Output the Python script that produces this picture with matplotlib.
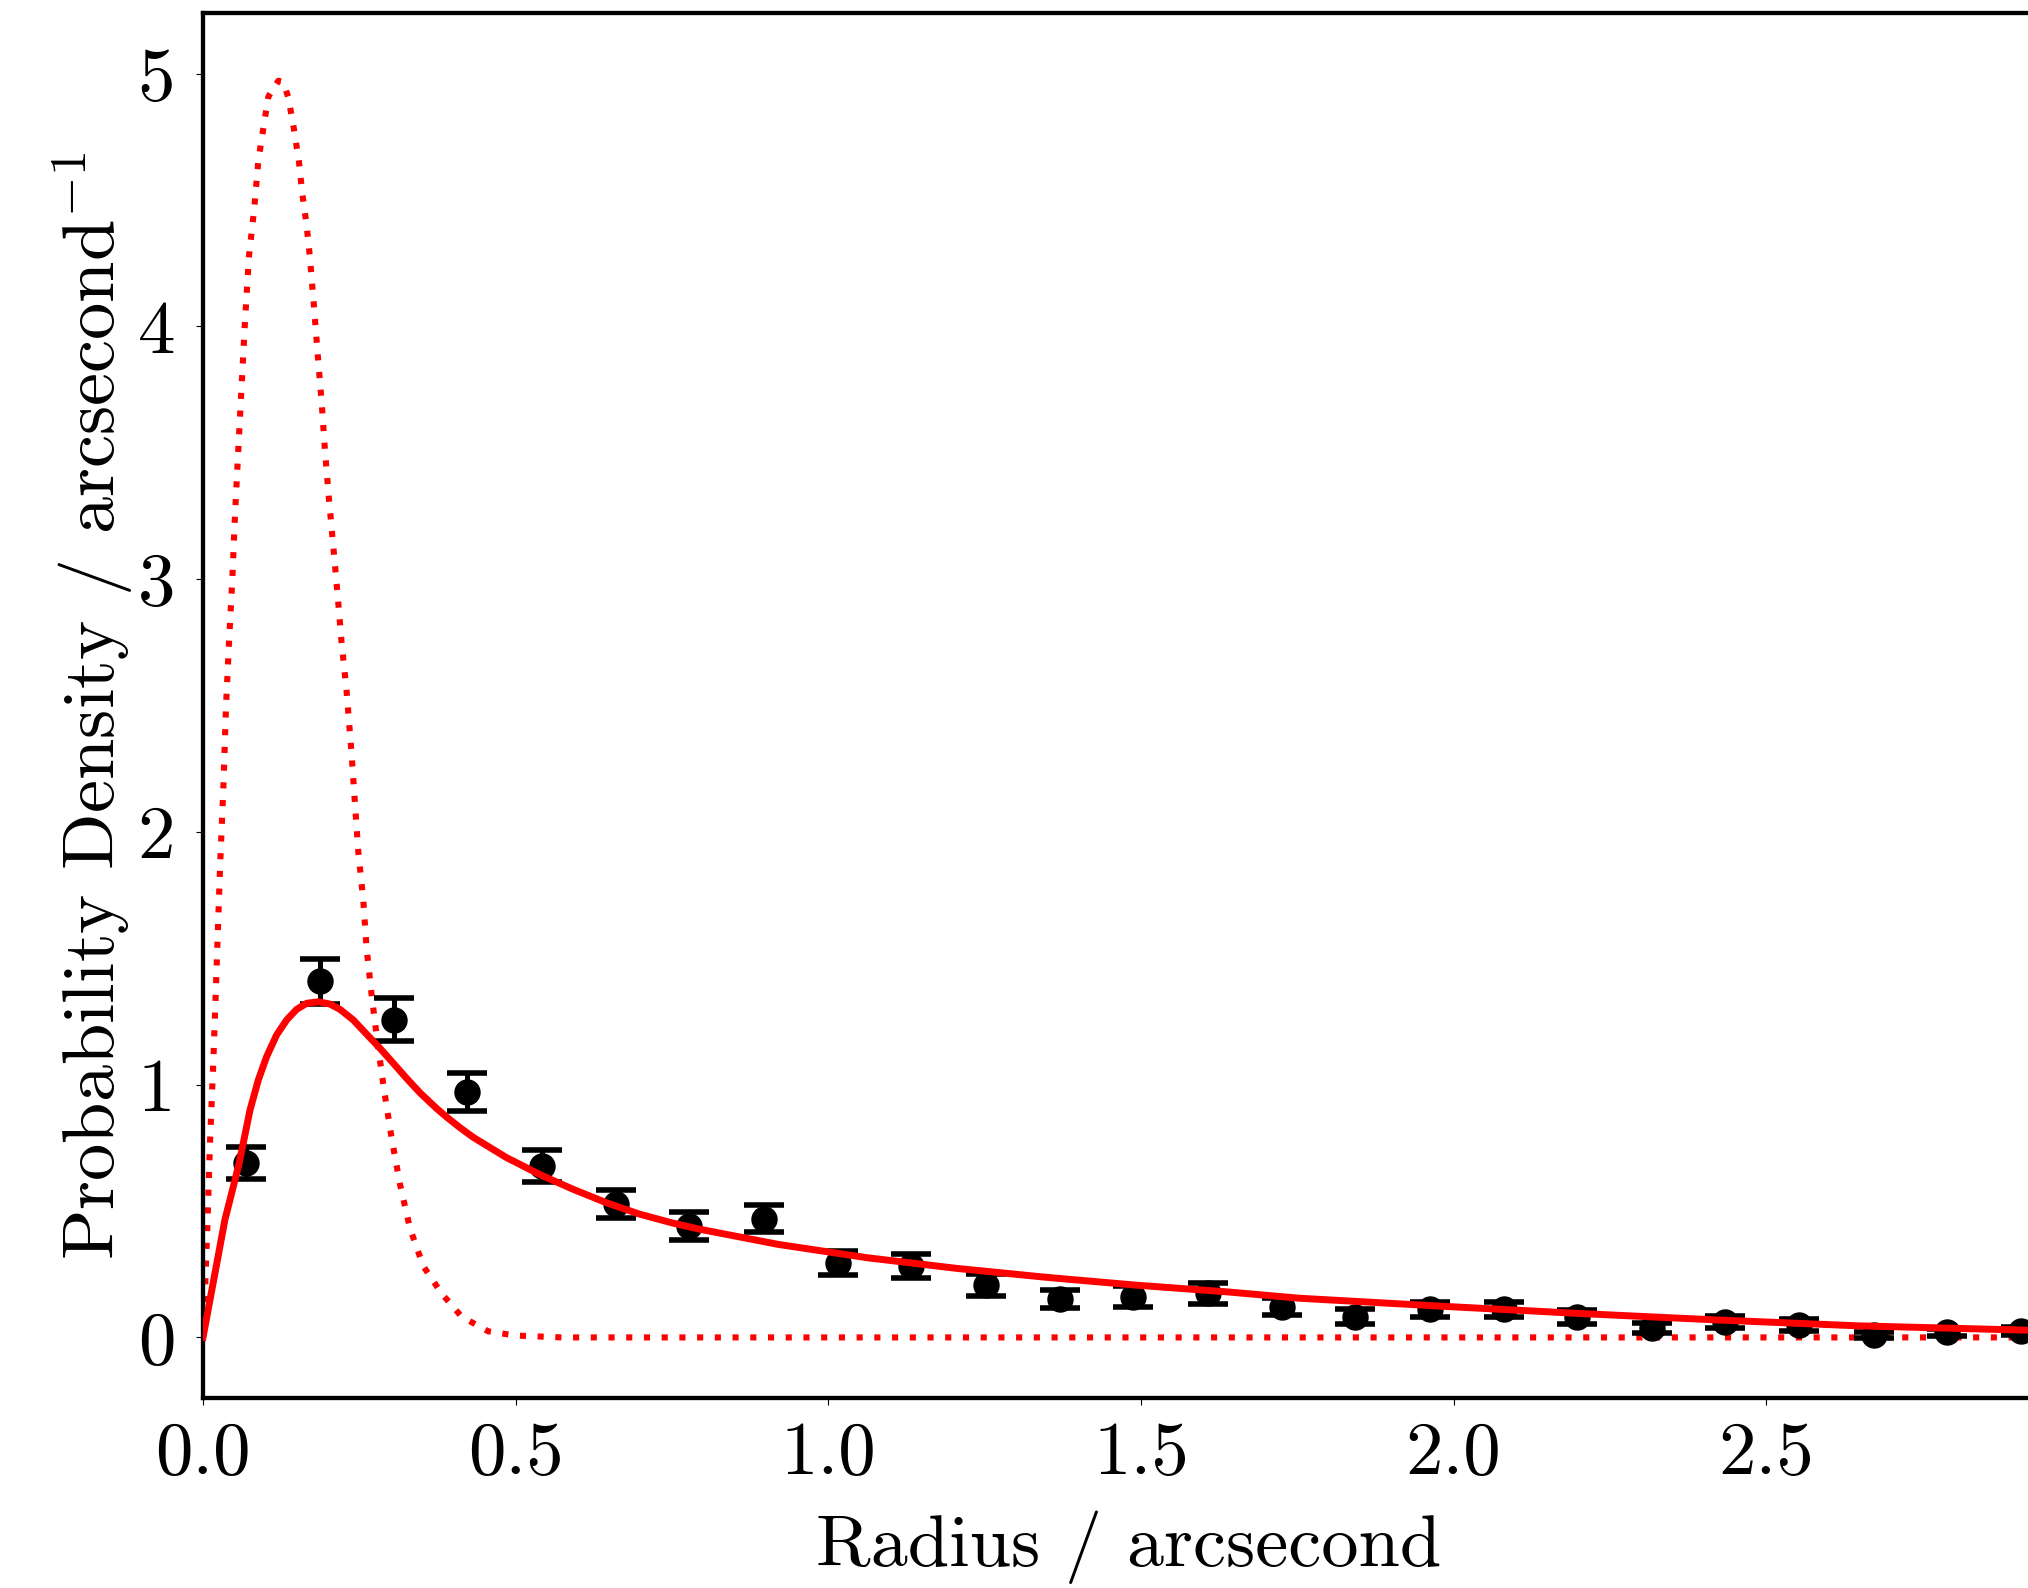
import numpy as np
import matplotlib
matplotlib.use("Agg")
import matplotlib.pyplot as plt

plt.rcParams['font.family'] = 'serif'
plt.rcParams['font.serif'] = ['cmr10']
plt.rcParams['mathtext.fontset'] = 'cm'
plt.rcParams['axes.formatter.use_mathtext'] = True

# binned radial distribution
r_bins = [0.069, 0.187, 0.305, 0.423, 0.542, 0.660, 0.778, 0.897, 1.015, 1.133,
          1.252, 1.370, 1.488, 1.607, 1.725, 1.843, 1.962, 2.080, 2.198, 2.317,
          2.435, 2.553, 2.672, 2.790, 2.908]
density = [0.690, 1.410, 1.256, 0.970, 0.679, 0.527, 0.441, 0.470, 0.293, 0.283,
           0.207, 0.151, 0.161, 0.174, 0.122, 0.082, 0.111, 0.111, 0.082, 0.038,
           0.061, 0.049, 0.010, 0.021, 0.027]
density_err = [0.065, 0.089, 0.085, 0.075, 0.063, 0.056, 0.055, 0.053, 0.047, 0.046,
               0.042, 0.036, 0.041, 0.040, 0.035, 0.030, 0.030, 0.030, 0.028, 0.020,
               0.024, 0.022, 0.012, 0.014, 0.016]

# full model (solid)
model_r = [0.0, 0.035, 0.0485, 0.058, 0.0752, 0.0885, 0.1018, 0.1178, 0.1338, 0.1498,
           0.1658, 0.1844, 0.203, 0.219, 0.2403, 0.2616, 0.283, 0.3043, 0.3256, 0.347,
           0.374, 0.3896, 0.411, 0.432, 0.485, 0.539, 0.592, 0.645, 0.698, 0.752,
           0.7945, 0.920, 1.063, 1.206, 1.348, 1.491, 1.634, 1.754, 1.977, 2.199,
           2.422, 2.645, 2.912, 2.96]
model_p = [0.0, 0.465, 0.597, 0.691, 0.900, 1.019, 1.111, 1.197, 1.256, 1.298,
           1.322, 1.328, 1.319, 1.298, 1.256, 1.200, 1.144, 1.085, 1.025, 0.968,
           0.905, 0.872, 0.830, 0.792, 0.712, 0.644, 0.586, 0.533, 0.488, 0.452,
           0.428, 0.368, 0.315, 0.273, 0.238, 0.207, 0.181, 0.155, 0.124, 0.095,
           0.069, 0.046, 0.029, 0.027]

# compact component (dotted)
comp_r = [0.0, 0.0021, 0.007, 0.0112, 0.0165, 0.0219, 0.0272, 0.0325, 0.0368, 0.0416,
          0.0469, 0.0512, 0.0565, 0.0618, 0.0672, 0.0735, 0.082, 0.0885, 0.0965, 0.1045,
          0.1205, 0.1284, 0.1364, 0.1455, 0.1535, 0.1588, 0.1657, 0.171, 0.1774, 0.1833,
          0.1897, 0.195, 0.2014, 0.2083, 0.2152, 0.2216, 0.2296, 0.2377, 0.2430, 0.2483,
          0.2563, 0.2616, 0.2696, 0.2792, 0.2899, 0.3016, 0.315, 0.331, 0.3523, 0.3816,
          0.4136, 0.4562, 0.499, 0.5735, 1.0, 2.0, 2.96]
comp_p = [0.0, 0.107, 0.440, 0.774, 1.090, 1.473, 1.856, 2.173, 2.497, 2.750,
          3.003, 3.257, 3.514, 3.768, 4.022, 4.277, 4.468, 4.656, 4.784, 4.909,
          4.972, 4.967, 4.906, 4.780, 4.651, 4.526, 4.401, 4.273, 4.082, 3.893,
          3.702, 3.511, 3.319, 3.131, 2.940, 2.750, 2.559, 2.306, 2.114, 1.923,
          1.731, 1.540, 1.357, 1.165, 0.974, 0.790, 0.607, 0.432, 0.282, 0.174,
          0.082, 0.024, 0.0075, 0.0, 0.0, 0.0, 0.0]

fig = plt.figure(figsize=(20.28, 15.88), dpi=100)
ax = fig.add_axes([0.1001, 0.1196, 0.9126, 0.8722])

ax.plot(comp_r, comp_p, color='red', lw=4.4, linestyle=(0, (1.0, 1.9)), zorder=1)
ax.errorbar(r_bins, density, yerr=density_err, fmt='o', color='black', ms=18,
            elinewidth=3.6, capsize=14.4, capthick=4, zorder=2)
ax.plot(model_r, model_p, color='red', lw=5, zorder=3)

ax.set_xlim(0, 2.96)
ax.set_ylim(-0.24, 5.24)
ax.set_xticks([0.0, 0.5, 1.0, 1.5, 2.0, 2.5])
ax.set_xticklabels(['0.0', '0.5', '1.0', '1.5', '2.0', '2.5'])
ax.set_yticks([0, 1, 2, 3, 4, 5])
ax.set_yticklabels(['0', '1', '2', '3', '4', '5'])
ax.tick_params(labelsize=54, length=5, width=0.8)
ax.tick_params(axis='x', pad=12)
ax.tick_params(axis='y', pad=15)
for s in ax.spines.values():
    s.set_linewidth(3.1)

ax.set_xlabel('Radius / arcsecond', fontsize=53.5, labelpad=15)
ax.set_ylabel(r'Probability Density / arcsecond$^{-1}$', fontsize=53.5, labelpad=2)

fig.savefig('out.png', dpi=100)
